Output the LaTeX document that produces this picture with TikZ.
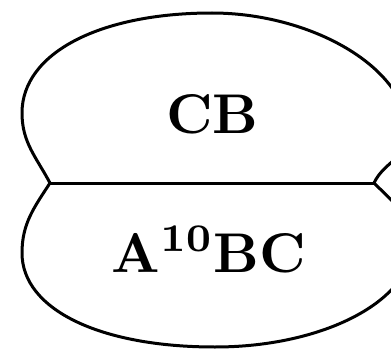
\documentclass[tikz,border=0pt]{standalone}
\begin{document}
\begin{tikzpicture}[x=1pt,y=1pt,
  outline/.style={draw=black,line width=3pt,line join=round},
  label/.style={inner sep=0pt,anchor=base,scale=5.6}]
\useasboundingbox (0,0) rectangle (391,349);
\clip (0,0) rectangle (391,349);
% pinch points where the two lobes meet
\coordinate (pl) at (50,166);
\coordinate (pr) at (374,166);
% upper lobe
\draw[outline] (pl) to[out=118,in=-90] (22,236)
  .. controls (22,296) and (100,336) .. (212,336)
  .. controls (310,336) and (408,282) .. (408,215)
  to[out=-90,in=65] (pr);
% lower lobe
\draw[outline] (pl) to[out=-123,in=90] (22,96)
  .. controls (22,40) and (99,2) .. (215,2)
  .. controls (323,2) and (412,48) .. (412,105)
  to[out=90,in=-45] (pr);
% dividing line
\draw[outline] (pl) -- (pr);
\node[label] (top) at (212.5,216) {$\mathbf{CB}$};
\node[label] (bottom) at (209,77) {$\mathbf{A}^{\mathbf{10}}\mathbf{BC}$};
\end{tikzpicture}
\end{document}
